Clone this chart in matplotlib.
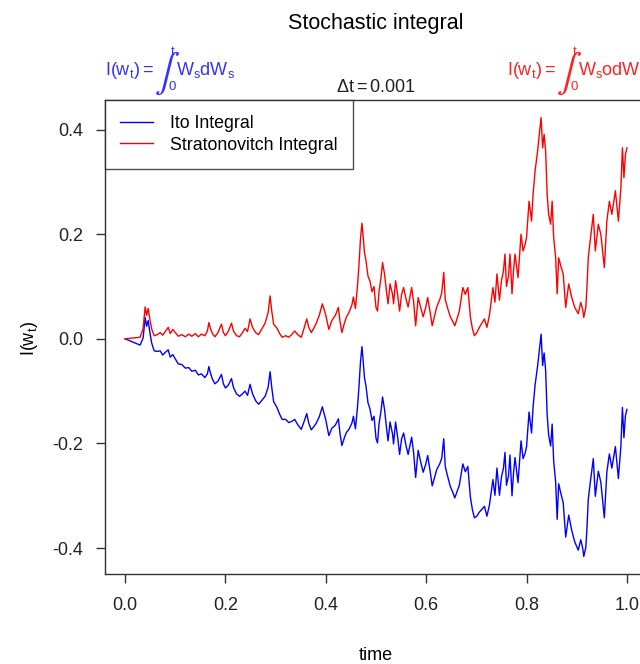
import matplotlib
matplotlib.use("Agg")
import matplotlib.pyplot as plt

plt.rcParams['font.family'] = ['Liberation Sans', 'DejaVu Sans']
plt.rcParams['mathtext.fontset'] = 'custom'
plt.rcParams['mathtext.rm'] = 'Liberation Sans'
plt.rcParams['mathtext.it'] = 'Liberation Sans'
plt.rcParams['mathtext.bf'] = 'Liberation Sans:bold'

# time grid
time = [0.000, 0.010, 0.020, 0.030, 0.036, 0.040, 0.043, 0.046, 0.050, 0.053,
        0.058, 0.064, 0.070, 0.075, 0.080, 0.086, 0.090, 0.095, 0.100, 0.106,
        0.113, 0.120, 0.127, 0.133, 0.140, 0.146, 0.152, 0.159, 0.164, 0.167,
        0.170, 0.174, 0.179, 0.185, 0.192, 0.196, 0.200, 0.206, 0.212, 0.216,
        0.222, 0.228, 0.234, 0.239, 0.244, 0.249, 0.254, 0.260, 0.266, 0.272,
        0.279, 0.285, 0.289, 0.292, 0.296, 0.303, 0.308, 0.313, 0.320, 0.326,
        0.332, 0.338, 0.344, 0.351, 0.356, 0.362, 0.366, 0.371, 0.376, 0.381,
        0.387, 0.393, 0.397, 0.400, 0.406, 0.412, 0.419, 0.425, 0.428, 0.432,
        0.437, 0.441, 0.446, 0.452, 0.455, 0.459, 0.463, 0.466, 0.469, 0.472,
        0.474, 0.477, 0.480, 0.484, 0.488, 0.492, 0.496, 0.500, 0.503, 0.506,
        0.510, 0.513, 0.517, 0.521, 0.524, 0.528, 0.533, 0.535, 0.539, 0.543,
        0.547, 0.551, 0.555, 0.560, 0.564, 0.571, 0.575, 0.579, 0.584, 0.589,
        0.594, 0.599, 0.603, 0.608, 0.612, 0.617, 0.621, 0.627, 0.631, 0.635,
        0.638, 0.642, 0.648, 0.652, 0.657, 0.662, 0.666, 0.673, 0.678, 0.683,
        0.688, 0.692, 0.696, 0.701, 0.706, 0.711, 0.716, 0.721, 0.726, 0.733,
        0.737, 0.741, 0.746, 0.750, 0.754, 0.757, 0.760, 0.764, 0.767, 0.771,
        0.774, 0.777, 0.783, 0.789, 0.793, 0.797, 0.800, 0.805, 0.810, 0.813,
        0.817, 0.822, 0.826, 0.829, 0.832, 0.835, 0.838, 0.841, 0.844, 0.848,
        0.851, 0.854, 0.858, 0.861, 0.864, 0.868, 0.873, 0.878, 0.884, 0.890,
        0.896, 0.903, 0.908, 0.912, 0.914, 0.918, 0.920, 0.923, 0.926, 0.933,
        0.937, 0.943, 0.948, 0.955, 0.960, 0.965, 0.970, 0.977, 0.983, 0.988,
        0.991, 0.994, 0.997, 1.000]

strat = [0.000, 0.001, 0.002, 0.003, 0.020, 0.061, 0.045, 0.058, 0.034, 0.019,
         0.006, 0.008, 0.012, 0.007, 0.014, 0.022, 0.010, 0.018, 0.012, 0.005,
         0.008, 0.004, 0.009, 0.005, 0.010, 0.004, 0.009, 0.006, 0.015, 0.031,
         0.020, 0.010, 0.004, 0.012, 0.028, 0.012, 0.006, 0.015, 0.030, 0.015,
         0.006, 0.004, 0.012, 0.020, 0.014, 0.038, 0.022, 0.012, 0.008, 0.018,
         0.030, 0.050, 0.082, 0.055, 0.028, 0.020, 0.010, 0.003, 0.006, 0.003,
         0.008, 0.015, 0.008, 0.003, 0.018, 0.038, 0.022, 0.012, 0.020, 0.030,
         0.045, 0.067, 0.055, 0.045, 0.018, 0.035, 0.045, 0.060, 0.035, 0.012,
         0.030, 0.042, 0.050, 0.065, 0.080, 0.058, 0.100, 0.140, 0.190, 0.221,
         0.200, 0.165, 0.150, 0.120, 0.110, 0.090, 0.100, 0.060, 0.053, 0.090,
         0.117, 0.146, 0.124, 0.090, 0.067, 0.105, 0.085, 0.067, 0.111, 0.085,
         0.053, 0.085, 0.098, 0.075, 0.061, 0.098, 0.070, 0.025, 0.079, 0.060,
         0.042, 0.060, 0.079, 0.050, 0.025, 0.045, 0.061, 0.075, 0.088, 0.127,
         0.075, 0.061, 0.042, 0.035, 0.025, 0.040, 0.053, 0.098, 0.085, 0.098,
         0.042, 0.020, 0.006, 0.012, 0.022, 0.030, 0.038, 0.022, 0.045, 0.098,
         0.070, 0.124, 0.074, 0.111, 0.130, 0.162, 0.100, 0.120, 0.162, 0.086,
         0.130, 0.162, 0.117, 0.200, 0.168, 0.180, 0.194, 0.263, 0.225, 0.277,
         0.321, 0.359, 0.397, 0.423, 0.365, 0.391, 0.359, 0.277, 0.238, 0.219,
         0.263, 0.194, 0.155, 0.086, 0.155, 0.140, 0.124, 0.060, 0.105, 0.079,
         0.060, 0.048, 0.070, 0.055, 0.041, 0.060, 0.092, 0.155, 0.181, 0.238,
         0.168, 0.219, 0.200, 0.136, 0.225, 0.263, 0.238, 0.283, 0.225, 0.289,
         0.365, 0.308, 0.352, 0.365]

ito = [0.000, -0.004, -0.008, -0.012, 0.002, 0.041, 0.024, 0.035, 0.009, -0.008,
       -0.023, -0.024, -0.023, -0.031, -0.026, -0.021, -0.035, -0.030, -0.038, -0.048,
       -0.049, -0.056, -0.055, -0.062, -0.060, -0.069, -0.067, -0.074, -0.067, -0.053,
       -0.065, -0.077, -0.086, -0.081, -0.068, -0.086, -0.094, -0.088, -0.076, -0.093,
       -0.105, -0.110, -0.105, -0.100, -0.108, -0.087, -0.105, -0.118, -0.125, -0.118,
       -0.110, -0.093, -0.063, -0.091, -0.120, -0.132, -0.144, -0.154, -0.154, -0.160,
       -0.158, -0.154, -0.164, -0.173, -0.160, -0.143, -0.161, -0.174, -0.168, -0.161,
       -0.149, -0.130, -0.144, -0.155, -0.185, -0.171, -0.165, -0.153, -0.179, -0.204,
       -0.189, -0.179, -0.173, -0.161, -0.148, -0.172, -0.132, -0.093, -0.045, -0.015,
       -0.037, -0.074, -0.090, -0.122, -0.134, -0.156, -0.148, -0.190, -0.199, -0.163,
       -0.138, -0.111, -0.135, -0.171, -0.195, -0.159, -0.182, -0.201, -0.159, -0.187,
       -0.221, -0.191, -0.180, -0.205, -0.221, -0.188, -0.218, -0.265, -0.213, -0.235,
       -0.255, -0.240, -0.223, -0.254, -0.281, -0.264, -0.250, -0.239, -0.228, -0.191,
       -0.244, -0.260, -0.282, -0.291, -0.304, -0.291, -0.280, -0.239, -0.254, -0.244,
       -0.302, -0.326, -0.342, -0.339, -0.331, -0.326, -0.320, -0.339, -0.318, -0.269,
       -0.299, -0.247, -0.299, -0.264, -0.247, -0.217, -0.280, -0.262, -0.222, -0.300,
       -0.257, -0.227, -0.275, -0.195, -0.229, -0.219, -0.206, -0.140, -0.180, -0.130,
       -0.088, -0.052, -0.016, 0.009, -0.051, -0.027, -0.060, -0.144, -0.184, -0.205,
       -0.163, -0.233, -0.274, -0.345, -0.277, -0.294, -0.313, -0.379, -0.337, -0.366,
       -0.388, -0.404, -0.384, -0.401, -0.416, -0.399, -0.368, -0.307, -0.282, -0.229,
       -0.301, -0.253, -0.274, -0.342, -0.255, -0.220, -0.247, -0.206, -0.267, -0.205,
       -0.131, -0.189, -0.147, -0.135]

xticks = [0.0, 0.2, 0.4, 0.6, 0.8, 1.0]
xtick_labels = ["0.0", "0.2", "0.4", "0.6", "0.8", "1.0"]
yticks = [-0.4, -0.2, 0.0, 0.2, 0.4]
ytick_labels = ["-0.4", "-0.2", "0.0", "0.2", "0.4"]

W, H = 640, 664
fig = plt.figure(figsize=(W / 100, H / 100), dpi=100)
left, right, top, bottom = 105, 647, 100, 574
ax = fig.add_axes([left / W, 1 - bottom / H, (right - left) / W, (bottom - top) / H])

ax.plot(time, ito, color='blue', lw=1.0, label='Ito Integral')
ax.plot(time, strat, color='red', lw=1.0, label='Stratonovitch Integral')

ax.set_xlim(-0.04, 1.04)
ax.set_ylim(-0.4495, 0.4565)
ax.set_xticks(xticks)
ax.set_xticklabels(xtick_labels)
ax.set_yticks(yticks)
ax.set_yticklabels(ytick_labels)
ax.tick_params(axis='both', direction='out', length=6.5, width=1.0, color='#333333',
               labelsize=13, labelcolor='#222222')
ax.tick_params(axis='x', pad=10)
ax.tick_params(axis='y', pad=9)
for s in ax.spines.values():
    s.set_color('#333333')
    s.set_linewidth(1.0)

leg = ax.legend(loc='upper left', borderaxespad=0, fancybox=False, fontsize=12.8,
                frameon=True, handlelength=1.85, handletextpad=0.95, borderpad=0.85,
                labelspacing=0.25)
leg.get_frame().set_edgecolor('#222222')
leg.get_frame().set_linewidth(1.0)

fig.text(376 / W, 1 - 23 / H, 'Stochastic integral', ha='center', va='center', fontsize=15.5)
fig.text(376 / W, 1 - 655 / H, 'time', ha='center', va='center', fontsize=13)
fig.text(30 / W, 1 - 338 / H, r'$\mathrm{I}(\mathrm{w}_t)$', ha='center', va='center',
         rotation=90, fontsize=13)
fig.text(376 / W, 1 - 87 / H, r'$\Delta t = 0.001$', ha='center', va='center',
         fontsize=13, color='#222222')

renderer = fig.canvas.get_renderer()


def P(x, y):
    return (x / W, 1 - y / H)


def width(t):
    return t.get_window_extent(renderer).width


def formula(x0, base, color, mid):
    arts = []
    t1 = fig.text(*P(x0, base), r'$\mathrm{I}(\mathrm{w}_t)=$', fontsize=13,
                  color=color, va='baseline', ha='left')
    arts.append(t1)
    x = x0 + width(t1) + 1
    integ = fig.text(*P(x, base + 8), '\u222b', fontsize=27, family='STIXGeneral',
                     color=color, va='baseline', ha='left')
    arts.append(integ)
    wi = width(integ)
    sup = fig.text(*P(x + wi * 0.95, base - 20), 't', fontsize=9.5, color=color,
                   va='baseline', ha='left')
    sub = fig.text(*P(x + wi * 0.78, base + 15), '0', fontsize=9.5, color=color,
                   va='baseline', ha='left')
    arts += [sup, sub]
    x2 = x + wi + 4
    t2 = fig.text(*P(x2, base), r'$\mathrm{W}_s\mathrm{' + mid + r'W}_s$', fontsize=13,
                  color=color, va='baseline', ha='left')
    arts.append(t2)
    return arts, x2 + width(t2)


formula(105, 75, '#3333ff', 'd')
arts, end = formula(0, 75, '#ff2222', 'od')
shift = (647 - end) / W
for a in arts:
    xx, yy = a.get_position()
    a.set_position((xx + shift, yy))

fig.savefig('out.png', dpi=100)
